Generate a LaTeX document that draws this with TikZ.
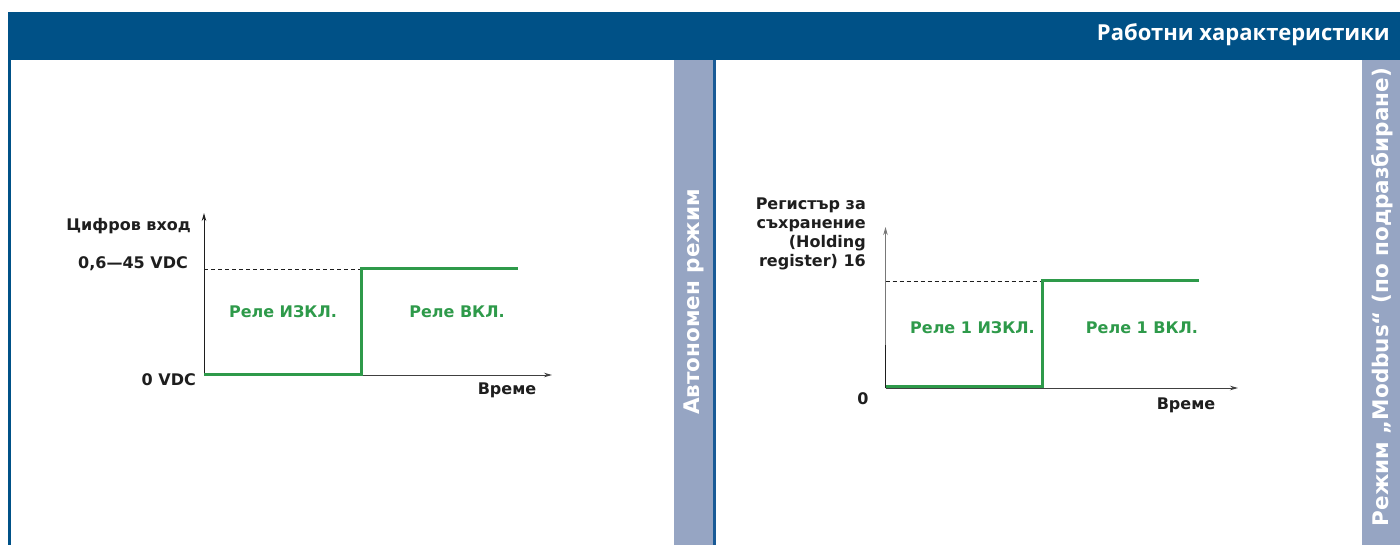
\documentclass[tikz,border=0pt]{standalone}
\usepackage{fontspec}
\setmainfont{DejaVu Sans}
\newfontfamily\hdrfont{Open Sans}
\usetikzlibrary{arrows.meta}
\definecolor{hdrblue}{RGB}{0,81,135}
\definecolor{linkblue}{RGB}{25,90,150}
\definecolor{bandgray}{RGB}{150,165,195}
\definecolor{relgreen}{RGB}{46,154,74}
\definecolor{axgray}{RGB}{120,120,120}
\definecolor{txt}{RGB}{30,30,30}
\begin{document}
\begin{tikzpicture}[x=1pt,y=-1pt,
 lbl/.style={font=\bfseries\fontsize{16}{19}\selectfont, text=txt, inner sep=0pt},
 rel/.style={font=\bfseries\fontsize{16}{19}\selectfont, text=relgreen, inner sep=0pt},
 band/.style={font=\bfseries\fontsize{21.5}{24}\selectfont, text=white, rotate=90, inner sep=0pt},
 axisline/.style={line width=1pt, -{Stealth[length=8pt,width=4.5pt]}},
 sig/.style={relgreen, line width=3pt},
 guide/.style={line width=0.6pt, dash pattern=on 4pt off 3pt}]
\useasboundingbox (0,0) rectangle (1400,545);
\fill[white] (0,0) rectangle (1400,545);
% frame
\fill[hdrblue] (8,12) rectangle (1400,60);
\fill[hdrblue] (8,60) rectangle (11,545);
\fill[bandgray] (674,60) rectangle (713,545);
\fill[linkblue] (713,60) rectangle (715.5,545);
\fill[bandgray] (1362,60) rectangle (1400,545);
\node[anchor=east, text=white, font=\hdrfont\bfseries\fontsize{22}{26}\selectfont, inner sep=0pt] (title) at (1390,35) {Работни характеристики};
\node[band] (bandA) at (694,302) {Автономен режим};
\node[band] (bandB) at (1382,297) {Режим „Modbus“ (по подразбиране)};

% left chart
\coordinate (o1) at (204,375);
\coordinate (y1) at (204,213);
\coordinate (x1) at (552,375);
\coordinate (s1a) at (204,374);
\coordinate (s1b) at (361,374);
\coordinate (s1c) at (361,269);
\coordinate (s1d) at (518,269);
\coordinate (d1) at (204,269);
\draw[axisline, txt] (o1) -- (y1);
\draw[axisline, txt!85] (o1) -- (x1);
\draw[guide, txt] (d1) -- (s1c);
\draw[sig] (s1a) -- (s1b) -- (s1c) -- (s1d);
\node[lbl, anchor=east] (l1y) at (191,226) {Цифров вход};
\node[lbl, anchor=east] (l1h) at (188,264) {0,6—45 VDC};
\node[lbl, anchor=east] (l1z) at (196,380) {0 VDC};
\node[lbl] (l1t) at (507,390) {Време};
\node[rel] (r1off) at (283,312) {Реле ИЗКЛ.};
\node[rel] (r1on) at (457,312) {Реле ВКЛ.};

% right chart
\coordinate (o2) at (885.5,388);
\coordinate (y2) at (885.5,227);
\coordinate (k2) at (885.5,345);
\coordinate (x2) at (1238,388);
\coordinate (s2a) at (885.5,386.5);
\coordinate (s2b) at (1042,386.5);
\coordinate (s2c) at (1042,281);
\coordinate (s2d) at (1199,281);
\coordinate (d2) at (885.5,281);
\draw[axisline, axgray] (o2) -- (y2);
\draw[line width=1pt, txt] (o2) -- (k2);
\draw[axisline, txt!85] (o2) -- (x2);
\draw[guide, txt] (d2) -- (s2c);
\draw[sig] (s2a) -- (s2b) -- (s2c) -- (s2d);
\node[lbl, anchor=east, align=right] (l2y) at (866,234) {Регистър за\\съхранение\\(Holding\\register) 16};
\node[lbl] (l2z) at (863,399) {0};
\node[lbl] (l2t) at (1186,405) {Време};
\node[rel] (r2off) at (972.5,328) {Реле 1 ИЗКЛ.};
\node[rel] (r2on) at (1142,328) {Реле 1 ВКЛ.};
\end{tikzpicture}
\end{document}
